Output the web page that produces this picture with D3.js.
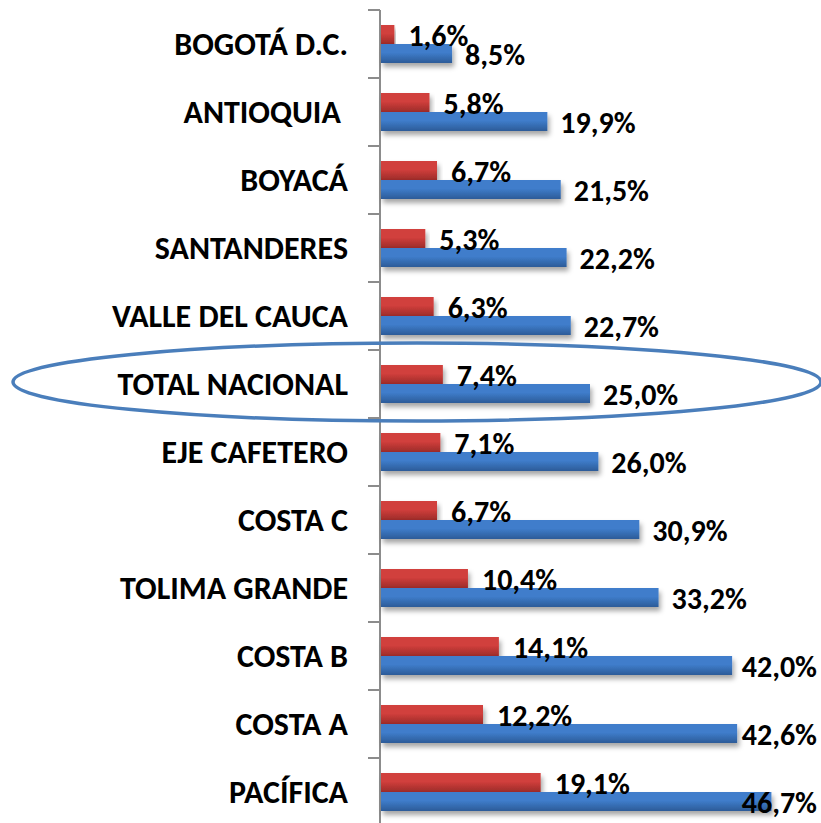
<!DOCTYPE html>
<html>
<head>
<meta charset="utf-8">
<script src="https://cdn.jsdelivr.net/npm/d3@7"></script>
<style>
  body { margin: 0; background: #fff; }
  svg text { font-family: Carlito, "Liberation Sans", Arial, sans-serif; font-weight: bold; fill: #000; }
</style>
</head>
<body>
<svg id="chart" width="821" height="823"></svg>
<script>
(function() {

  // ---------------- data ----------------
  var categories = ["BOGOTÁ D.C.", "ANTIOQUIA ", "BOYACÁ", "SANTANDERES", "VALLE DEL CAUCA",
                    "TOTAL NACIONAL", "EJE CAFETERO", "COSTA C", "TOLIMA GRANDE", "COSTA B",
                    "COSTA A", "PACÍFICA"];
  var redValues  = [1.6, 5.8, 6.7, 5.3, 6.3, 7.4, 7.1, 6.7, 10.4, 14.1, 12.2, 19.1];
  var blueValues = [8.5, 19.9, 21.5, 22.2, 22.7, 25.0, 26.0, 30.9, 33.2, 42.0, 42.6, 46.7];
  var highlight  = "TOTAL NACIONAL";

  var svg = d3.select("#chart");
  var W = 821;

  var x = d3.scaleLinear().domain([0, 50]).range([380, 798]);
  var y = d3.scaleBand().domain(categories).range([10, 826]);
  var barH = 19;

  var fmt = function(v) { return d3.format(".1f")(v).replace(".", ",") + "%"; };

  // gradients + shadow
  var defs = svg.append("defs");
  function grad(id, top, bottom) {
    var g = defs.append("linearGradient").attr("id", id)
      .attr("x1", 0).attr("y1", 0).attr("x2", 0).attr("y2", 1);
    g.append("stop").attr("offset", "0%").attr("stop-color", top);
    g.append("stop").attr("offset", "45%").attr("stop-color", top);
    g.append("stop").attr("offset", "100%").attr("stop-color", bottom);
  }
  grad("gRed", "#d13f3c", "#9c2b29");
  grad("gBlue", "#3f7dcb", "#2c5b98");

  var f = defs.append("filter").attr("id", "shadow")
    .attr("x", "-5%").attr("y", "-20%").attr("width", "115%").attr("height", "180%");
  f.append("feDropShadow").attr("dx", 2).attr("dy", 4).attr("stdDeviation", 2.5)
    .attr("flood-color", "#000").attr("flood-opacity", 0.35);

  // axis line + ticks
  var ticks = categories.map(function(c) { return y(c); }).concat([y.range()[1]]);
  svg.append("line")
    .attr("x1", x(0)).attr("x2", x(0))
    .attr("y1", y.range()[0]).attr("y2", y.range()[1])
    .attr("stroke", "#8c8c8c").attr("stroke-width", 2);
  svg.selectAll(".tick").data(ticks).enter().append("line")
    .attr("x1", x(0) - 12).attr("x2", x(0))
    .attr("y1", function(d) { return d; }).attr("y2", function(d) { return d; })
    .attr("stroke", "#8c8c8c").attr("stroke-width", 2);

  // bars
  var rows = categories.map(function(c, i) { return { cat: c, red: redValues[i], blue: blueValues[i] }; });
  var g = svg.selectAll(".row").data(rows).enter().append("g")
    .attr("transform", function(d) { return "translate(0," + (y(d.cat) + y.bandwidth() / 2) + ")"; });

  g.append("rect")
    .attr("x", x(0) + 1).attr("y", -barH)
    .attr("width", function(d) { return x(d.red) - x(0); })
    .attr("height", barH)
    .attr("fill", "url(#gRed)").attr("filter", "url(#shadow)");

  g.append("rect")
    .attr("x", x(0) + 1).attr("y", 0)
    .attr("width", function(d) { return x(d.blue) - x(0); })
    .attr("height", barH)
    .attr("fill", "url(#gBlue)").attr("filter", "url(#shadow)");

  // value labels (pulled back in when they would run off the right edge)
  function place(sel, key, dx) {
    sel.each(function(d) {
      var t = d3.select(this);
      var px = x(d[key]) + dx;
      var w = this.getComputedTextLength();
      if (px + w > W - 4) px = W - 4 - w;
      t.attr("x", px);
    });
  }

  g.append("text")
    .attr("y", -barH / 2 + 11)
    .attr("font-size", 30)
    .text(function(d) { return fmt(d.red); })
    .call(place, "red", 15);

  g.append("text")
    .attr("y", barH / 2 + 11)
    .attr("font-size", 30)
    .text(function(d) { return fmt(d.blue); })
    .call(place, "blue", 14);

  // category labels
  g.append("text")
    .attr("x", 348).attr("y", 11)
    .attr("text-anchor", "end")
    .attr("font-size", 32)
    .style("white-space", "pre")
    .text(function(d) { return d.cat; });

  // highlight ellipse round the national total
  var cy = y(highlight) + y.bandwidth() / 2 - 2;
  svg.append("ellipse")
    .attr("cx", 417).attr("cy", cy)
    .attr("rx", 404).attr("ry", 39)
    .attr("fill", "none").attr("stroke", "#4a7ebb").attr("stroke-width", 3.5);

}());
</script>
</body>
</html>
